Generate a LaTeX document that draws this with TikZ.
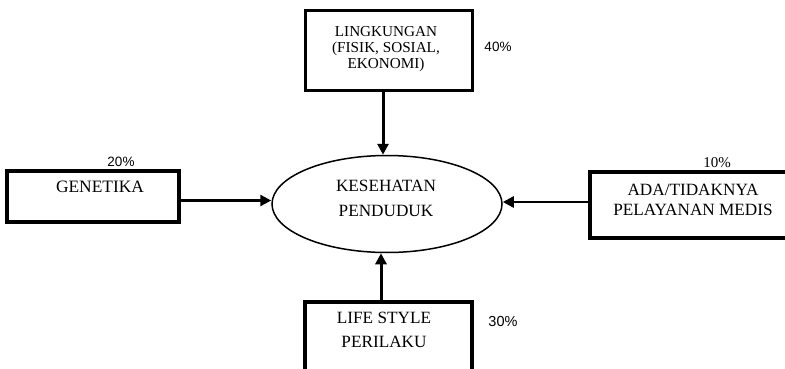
\documentclass[tikz,border=0pt]{standalone}
\usepackage{fontspec}
\setmainfont{Liberation Serif}
\newfontfamily\arialf{Liberation Sans}
\usetikzlibrary{shapes.geometric,arrows.meta,calc}
\begin{document}
\begin{tikzpicture}[x=1pt,y=-1pt,
  box/.style={draw,line width=3.3pt,inner sep=0pt},
  arr/.style={line width=2.4pt,-{Triangle[length=11pt,width=11pt]}},
  varr/.style={arr,line width=3pt},
  lbl/.style={align=center,inner sep=0pt},
  pct/.style={font=\arialf\fontsize{13.5}{16}\selectfont,inner sep=0pt}]
\useasboundingbox (0,0) rectangle (785,369);
\clip (0,0) rectangle (785,369);

% central ellipse
\node[draw,ellipse,line width=1.5pt,minimum width=230,minimum height=97,inner sep=0pt] (ell) at (387,204) {};
\node[lbl,font=\fontsize{17.2}{25}\selectfont] (ellt) at (386,198) {KESEHATAN\\PENDUDUK};

% environment (top)
\node[box,minimum width=167,minimum height=80] (env) at (389,50.5) {};
\node[lbl,font=\fontsize{15.2}{16.3}\selectfont] (envt) at (386,49) {LINGKUNGAN\\(FISIK, SOSIAL,\\EKONOMI)};
\node[pct] (p40) at (498,47) {40\%};

% genetics (left)
\node[box,minimum width=172,minimum height=51] (gen) at (93,196.5) {};
\node[lbl,font=\fontsize{17.4}{20}\selectfont] (gent) at (100,187) {GENETIKA};
\node[pct] (p20) at (121,162) {20\%};

% medical services (right)
\node[box,minimum width=210,minimum height=66] (med) at (695,205) {};
\node[lbl,font=\fontsize{17.2}{20}\selectfont] (medt) at (693,200) {ADA/TIDAKNYA\\PELAYANAN MEDIS};
\node[inner sep=0pt,font=\fontsize{15}{16}\selectfont] (p10) at (717,163) {10\%};

% life style (bottom)
\node[box,minimum width=167,minimum height=98] (life) at (388.5,351) {};
\node[lbl,font=\fontsize{17.2}{24}\selectfont] (lifet) at (384,330) {LIFE STYLE\\PERILAKU};
\node[pct,font=\arialf\fontsize{14.5}{16}\selectfont] (p30) at (503,322) {30\%};

% connectors
\coordinate (eA) at ([xshift=-6pt]env.south);
\draw[varr] (eA) -- (eA |- ell.north);
\coordinate (gA) at ([yshift=-4pt]gen.east);
\draw[arr] (gA) -- (gA -| ell.west);
\coordinate (mA) at ([yshift=3pt]med.west);
\draw[arr] (mA) -- (mA -| ell.east);
\coordinate (lA) at ([xshift=-7.5pt]life.north);
\draw[varr] (lA) -- (lA |- ell.south);
\end{tikzpicture}
\end{document}
